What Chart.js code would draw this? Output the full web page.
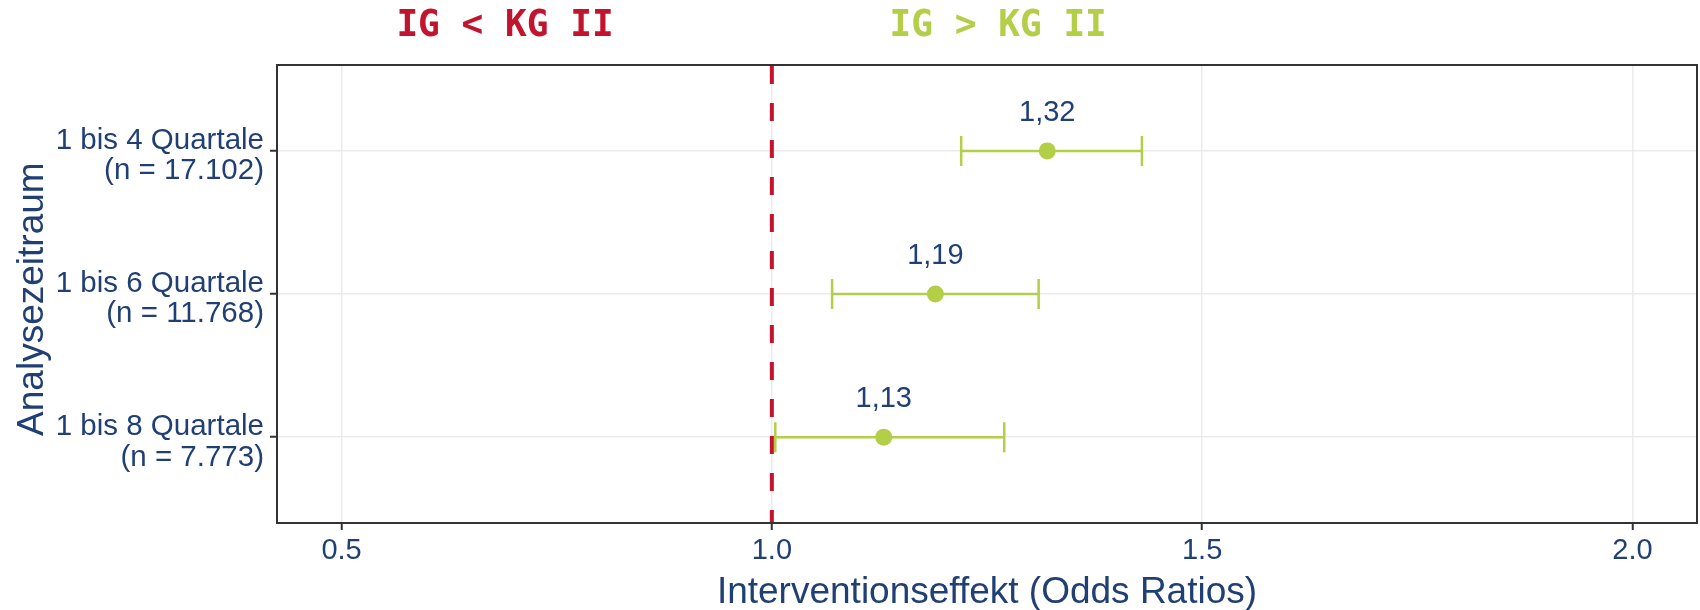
<!DOCTYPE html>
<html>
<head>
<meta charset="utf-8">
<script src="https://cdn.jsdelivr.net/npm/chart.js@4"></script>
<style>
  html, body { margin: 0; padding: 0; background: #ffffff; }
  #wrap { width: 1700px; height: 610px; }
</style>
</head>
<body>
<div id="wrap"><canvas id="forest" width="1700" height="610"></canvas></div>
<script>
// Analysis periods and their sample sizes
const periods = ['1 bis 4 Quartale', '1 bis 6 Quartale', '1 bis 8 Quartale'];
const sampleSizes = ['17.102', '11.768', '7.773'];

// Odds ratios with 95% confidence limits
const oddsRatios = [1.32, 1.19, 1.13];
const ciLower = [1.22, 1.07, 1.004];
const ciUpper = [1.43, 1.31, 1.27];

// Axis ticks and the null-effect reference
const xTickValues = [0.5, 1.0, 1.5, 2.0];
const xTickLabels = ['0.5', '1.0', '1.5', '2.0'];
const referenceOR = 1.0;

// Group headings above the panel
const groupTitles = ['IG < KG II', 'IG > KG II'];

const GREEN = '#b3ce47';
const RED = '#c3142f';
const TEXT = '#203f75';
const SANS = '"Liberation Sans", Arial, sans-serif';

const rows = periods.map((p, i) => i + 1);

const forestPlugin = {
  id: 'forest',
  beforeDatasetsDraw(chart) {
    const { ctx, chartArea, scales } = chart;
    const x = scales.x, y = scales.y;
    // dashed line at OR = 1
    ctx.save();
    ctx.strokeStyle = RED;
    ctx.lineWidth = 4;
    ctx.setLineDash([18, 19]);
    const xr = x.getPixelForValue(referenceOR);
    ctx.beginPath();
    ctx.moveTo(xr, chartArea.top + 1);
    ctx.lineTo(xr, chartArea.bottom);
    ctx.stroke();
    ctx.restore();
    // confidence interval whiskers
    ctx.save();
    ctx.strokeStyle = GREEN;
    ctx.lineWidth = 2.5;
    rows.forEach((r, i) => {
      const yp = y.getPixelForValue(r);
      const x0 = x.getPixelForValue(ciLower[i]);
      const x1 = x.getPixelForValue(ciUpper[i]);
      ctx.beginPath();
      ctx.moveTo(x0, yp); ctx.lineTo(x1, yp);
      ctx.moveTo(x0, yp - 15); ctx.lineTo(x0, yp + 15);
      ctx.moveTo(x1, yp - 15); ctx.lineTo(x1, yp + 15);
      ctx.stroke();
    });
    ctx.restore();
  },
  afterDatasetsDraw(chart) {
    const { ctx, scales } = chart;
    const x = scales.x, y = scales.y;
    ctx.save();
    ctx.fillStyle = TEXT;
    ctx.font = '29px ' + SANS;
    ctx.textAlign = 'center';
    ctx.textBaseline = 'middle';
    rows.forEach((r, i) => {
      const label = oddsRatios[i].toFixed(2).replace('.', ',');
      ctx.fillText(label, x.getPixelForValue(oddsRatios[i]), y.getPixelForValue(r) - 38);
    });
    ctx.restore();
  },
  afterDraw(chart) {
    const { ctx, chartArea, scales } = chart;
    // panel frame
    ctx.save();
    ctx.strokeStyle = '#333333';
    ctx.lineWidth = 2;
    ctx.strokeRect(chartArea.left, chartArea.top, chartArea.right - chartArea.left, chartArea.bottom - chartArea.top);
    ctx.restore();
    // group headings, slightly condensed
    const heads = [[groupTitles[0], 0.69, RED], [groupTitles[1], 1.263, GREEN]];
    heads.forEach(([text, v, color]) => {
      ctx.save();
      ctx.translate(scales.x.getPixelForValue(v), 26);
      ctx.scale(0.95, 1);
      ctx.font = 'bold 38px "DejaVu Sans Mono", monospace';
      ctx.textAlign = 'center';
      ctx.textBaseline = 'middle';
      ctx.fillStyle = color;
      ctx.fillText(text, 0, 0);
      ctx.restore();
    });
  }
};

new Chart(document.getElementById('forest'), {
  type: 'scatter',
  data: {
    datasets: [{
      data: rows.map((r, i) => ({ x: oddsRatios[i], y: r })),
      backgroundColor: GREEN,
      borderColor: GREEN,
      borderWidth: 0,
      pointRadius: 8.5,
      pointHoverRadius: 8.5
    }]
  },
  options: {
    responsive: false,
    animation: false,
    layout: { autoPadding: false, padding: { top: 65, right: 3, bottom: 0, left: 0 } },
    plugins: { legend: { display: false }, tooltip: { enabled: false } },
    scales: {
      x: {
        type: 'linear',
        min: 0.425,
        max: 2.075,
        afterBuildTicks(scale) { scale.ticks = xTickValues.map(v => ({ value: v })); },
        afterFit(scale) { scale.height = 87; scale.paddingLeft = 0; scale.paddingRight = 0; },
        ticks: {
          callback: (v) => xTickLabels[xTickValues.indexOf(v)],
          color: TEXT,
          font: { family: SANS, size: 29 },
          padding: 4,
          maxRotation: 0
        },
        grid: { color: '#ebebeb', lineWidth: 1.5, tickColor: '#333333', tickLength: 7, tickWidth: 2 },
        border: { display: true, color: '#333333', width: 2 },
        title: {
          display: true,
          text: 'Interventionseffekt (Odds Ratios)',
          color: TEXT,
          font: { family: SANS, size: 37, lineHeight: 1.1 },
          padding: { top: 0, bottom: -3 }
        }
      },
      y: {
        type: 'linear',
        reverse: true,
        min: 0.4,
        max: 3.6,
        afterBuildTicks(scale) { scale.ticks = rows.map(v => ({ value: v })); },
        afterFit(scale) { scale.width = 277; scale.paddingTop = 0; scale.paddingBottom = 0; },
        ticks: {
          callback: (v) => [periods[v - 1], '(n = ' + sampleSizes[v - 1] + ')'],
          color: TEXT,
          font: { family: SANS, size: 29.5, lineHeight: 1.04 },
          padding: 6,
          labelOffset: 5
        },
        grid: { color: '#ebebeb', lineWidth: 1.5, tickColor: '#333333', tickLength: 7, tickWidth: 2 },
        border: { display: true, color: '#333333', width: 2 },
        title: {
          display: true,
          text: 'Analysezeitraum ',
          color: TEXT,
          font: { family: SANS, size: 37, lineHeight: 1.1 },
          padding: { top: 12, bottom: 0 }
        }
      }
    }
  },
  plugins: [forestPlugin]
});
</script>
</body>
</html>
